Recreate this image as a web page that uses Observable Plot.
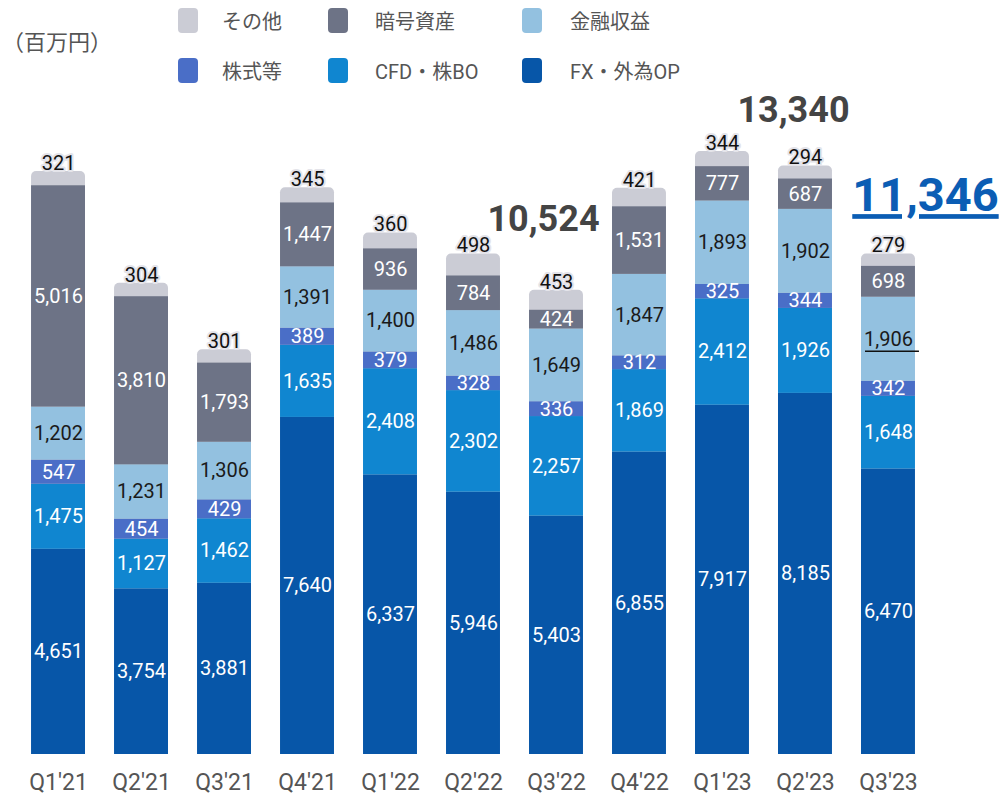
<!DOCTYPE html>
<html><head><meta charset="utf-8">
<script src="https://cdn.jsdelivr.net/npm/d3@7"></script>
<script src="https://cdn.jsdelivr.net/npm/@observablehq/plot@0.6"></script>
<style>
  html,body{margin:0;padding:0;background:#fff;}
  #wrap{position:relative;width:1002px;height:795px;font-family:Roboto,"Noto Sans CJK JP",sans-serif;}
  #unit{position:absolute;left:2px;top:24px;font-size:22px;color:#555;}
  .lg{position:absolute;display:flex;align-items:center;font-size:20px;color:#555;}
  .sw{position:absolute;width:20px;height:25px;border-radius:4px;}
  #chart svg{display:block;}
</style>
</head><body>
<div id="wrap">
  <div id="chart"></div>
  <div id="unit">（百万円）</div>
  <div id="legend"></div>
</div>
<script>
const quarters = ["Q1'21","Q2'21","Q3'21","Q4'21","Q1'22","Q2'22","Q3'22","Q4'22","Q1'23","Q2'23","Q3'23"];
const fx      = [4651,3754,3881,7640,6337,5946,5403,6855,7917,8185,6470];
const cfd     = [1475,1127,1462,1635,2408,2302,2257,1869,2412,1926,1648];
const stocks  = [547,454,429,389,379,328,336,312,325,344,342];
const finance = [1202,1231,1306,1391,1400,1486,1649,1847,1893,1902,1906];
const crypto  = [5016,3810,1793,1447,936,784,424,1531,777,687,698];
const other   = [321,304,301,345,360,498,453,421,344,294,279];
const seriesNames = ["FX・外為OP","CFD・株BO","株式等","金融収益","暗号資産","その他"];
const seriesColors = ["#0756a8","#1086d0","#4a6ec7","#93c1e0","#6d7386","#cbccd5"];
const totalQuarters = ["Q3'22","Q2'23","Q3'23"];
const totalLabels = ["10,524","13,340","11,346"];

const seriesValues = [fx,cfd,stocks,finance,crypto,other];
const fmt = d3.format(",");
const rows = [];
quarters.forEach((q,i)=>{
  let acc = 0;
  seriesValues.forEach((arr,s)=>{
    const v = arr[i];
    rows.push({quarter:q, series:seriesNames[s], value:v, y1:acc, y2:acc+v, mid:acc+v/2, label:fmt(v)});
    acc += v;
  });
});
const totals = quarters.map((q,i)=>({quarter:q, total:d3.sum(seriesValues,a=>a[i])}));
const totalOf = q => totals.find(t=>t.quarter===q).total;
const ann = totalQuarters.map((q,i)=>({quarter:q, total:totalOf(q), label:totalLabels[i]}));

const whiteSeries = new Set(["FX・外為OP","CFD・株BO","株式等","暗号資産"]);
const segs = rows.filter(r=>r.series!=="その他");

const plot = Plot.plot({
  width:1002, height:795,
  marginTop:4, marginBottom:41, marginLeft:2, marginRight:58,
  x:{domain:quarters, range:[2,944], padding:0.35, round:false, label:null, axis:null},
  y:{domain:[0,17000], axis:null},
  color:{domain:seriesNames, range:seriesColors},
  style:{fontFamily:'Roboto,"Noto Sans CJK JP",sans-serif', background:"#fff", overflow:"visible"},
  marks:[
    Plot.barY(totals,{x:"quarter", y:"total", fill:seriesColors[5], rx:5}),
    Plot.barY(segs,{x:"quarter", y1:"y1", y2:"y2", fill:"series"}),
    Plot.text(rows.filter(r=>whiteSeries.has(r.series)),{x:"quarter", y:"mid", text:"label", fill:"#fff", fontSize:20}),
    Plot.text(rows.filter(r=>r.series==="金融収益"),{x:"quarter", y:"mid", text:"label", fill:"#1a1a1a", fontSize:20}),
    Plot.text(rows.filter(r=>r.series==="その他"),{x:"quarter", y:"y2", text:"label", fill:"#111", stroke:"#e4e4ea", strokeWidth:4, paintOrder:"stroke", fontSize:20, dy:-8}),
    Plot.tickY(rows.filter(r=>r.series==="金融収益" && r.quarter==="Q3'23"),{x:"quarter", y:"mid", stroke:"#111", strokeWidth:1.6, dy:12, dx:4}),
    Plot.text(ann.filter(a=>a.quarter==="Q3'22"),{x:"quarter", y:"total", text:"label", fill:"#444", fontSize:36, fontWeight:"bold", dx:-13, dy:-71}),
    Plot.text(ann.filter(a=>a.quarter==="Q2'23"),{x:"quarter", y:"total", text:"label", fill:"#444", fontSize:36, fontWeight:"bold", dx:-12, dy:-56}),
    Plot.text(ann.filter(a=>a.quarter==="Q3'23"),{x:"quarter", y:"total", text:"label", fill:"#0b5db4", fontSize:47, fontWeight:"bold", dx:37, dy:-58}),
    Plot.axisX({tickSize:0, tickPadding:19, fontSize:23, color:"#555", label:null})
  ]
});
plot.querySelectorAll("text").forEach(t=>{ if(t.textContent==="11,346"){ t.setAttribute("text-decoration","underline"); }});
document.getElementById("chart").appendChild(plot);

// legend
const lg = document.getElementById("legend");
const legendPos = [
  {name:"その他", sx:178, tx:222, y:20},
  {name:"暗号資産", sx:328, tx:375, y:20},
  {name:"金融収益", sx:522, tx:570, y:20},
  {name:"株式等", sx:178, tx:222, y:70},
  {name:"CFD・株BO", sx:328, tx:375, y:70},
  {name:"FX・外為OP", sx:522, tx:570, y:70}
];
legendPos.forEach(p=>{
  const sw = document.createElement("div");
  sw.className="sw";
  sw.style.left=p.sx+"px"; sw.style.top=(p.y-12)+"px";
  sw.style.background = seriesColors[seriesNames.indexOf(p.name)];
  lg.appendChild(sw);
  const t = document.createElement("div");
  t.className="lg"; t.textContent=p.name;
  t.style.left=p.tx+"px"; t.style.top=(p.y-14)+"px"; t.style.height="28px";
  lg.appendChild(t);
});
</script>
</body></html>
